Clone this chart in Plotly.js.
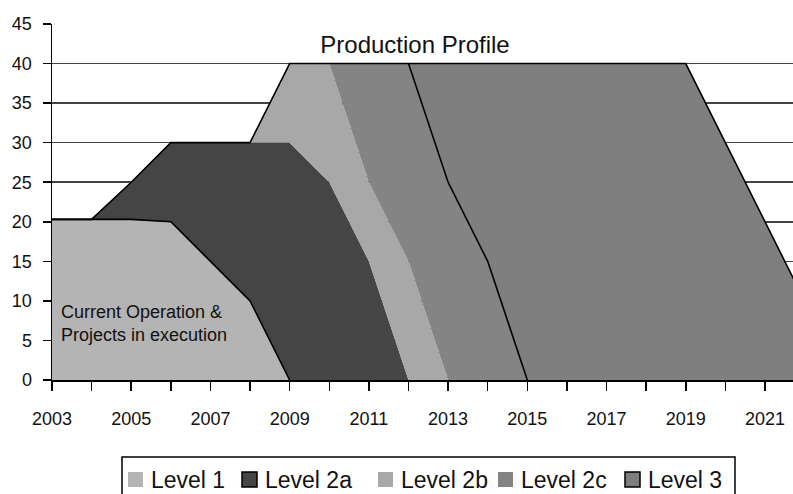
<!DOCTYPE html>
<html><head><meta charset="utf-8">
<script src="https://cdn.plot.ly/plotly-3.0.1.min.js"></script>
<style>html,body{margin:0;padding:0;background:#fff}#chart{width:793px;height:494px}</style>
</head><body><div id="chart"></div>
<script>
// ---- data ----
const years    = [2003,2004,2005,2006,2007,2008,2009,2010,2011,2012,2013,2014,2015,2016,2017,2018,2019,2020,2021,2022];
const level1   = [20.3,20.3,20.3,20, 15, 10, 0,  0,  0,  0,  0,  0,  0,  0,  0,  0,  0,  0,  0,  0];
const level2a  = [0,   0,   4.7, 10, 15, 20, 30, 25, 15, 0,  0,  0,  0,  0,  0,  0,  0,  0,  0,  0];
const level2b  = [0,   0,   0,   0,  0,  0,  10, 15, 10, 15, 0,  0,  0,  0,  0,  0,  0,  0,  0,  0];
const level2c  = [0,   0,   0,   0,  0,  0,  0,  0,  15, 25, 25, 15, 0,  0,  0,  0,  0,  0,  0,  0];
const level3   = [0,   0,   0,   0,  0,  0,  0,  0,  0,  0,  15, 25, 40, 40, 40, 40, 40, 30, 20, 10];
const seriesNames = ['Level 1','Level 2a','Level 2b','Level 2c','Level 3'];
const xTickYears  = [2003,2004,2005,2006,2007,2008,2009,2010,2011,2012,2013,2014,2015,2016,2017,2018,2019,2020,2021];
const xTickLabels = ['2003','','2005','','2007','','2009','','2011','','2013','','2015','','2017','','2019','','2021'];
const yTickVals   = [0,5,10,15,20,25,30,35,40,45];
const chartTitle  = 'Production Profile';
const noteText    = 'Current Operation &<br>Projects in execution';

// ---- styles ----
const colors   = ['#b4b4b4','#454545','#a8a8a8','#848484','#7f7f7f'];
const outlined = [false,true,false,false,true];
const FONT = 'Liberation Sans, Arial, sans-serif';
const W = 793, H = 494, M = {l:52, r:0, t:24, b:114};

const series = [level1, level2a, level2b, level2c, level3];
const cum = [];
series.forEach((s,i)=>{ cum.push(s.map((v,j)=> v + (i ? cum[i-1][j] : 0))); });

const traces = series.map((s,i)=>({
  type:'scatter', x: years, y: s, name: seriesNames[i], stackgroup:'one',
  mode:'lines', line:{width:0, color: colors[i]}, fillcolor: colors[i],
  showlegend:false, hoverinfo:'skip'
}));

const blk = {color:'#000', width:1.6};
const idx = (y)=>years.indexOf(y);
// overall envelope
traces.push({type:'scatter', mode:'lines', x: years, y: cum[4], line: blk, showlegend:false, hoverinfo:'skip'});
// Level 1 top edge
traces.push({type:'scatter', mode:'lines', x: years.slice(0, idx(2009)+1), y: cum[0].slice(0, idx(2009)+1), line: blk, showlegend:false, hoverinfo:'skip'});
// Level 3 left edge
traces.push({type:'scatter', mode:'lines', x: years.slice(idx(2012), idx(2015)+1), y: cum[3].slice(idx(2012), idx(2015)+1), line: blk, showlegend:false, hoverinfo:'skip'});

// pixel -> paper helpers
const pw = W - M.l - M.r, ph = H - M.t - M.b;
const px = (x)=> (x - M.l)/pw;
const py = (y)=> (H - M.b - y)/ph;

// custom legend
const swX = [128, 242, 378, 498, 625];
const swTop = 472, swSize = 15;
const shapes = [{type:'rect', xref:'paper', yref:'paper', x0:px(122), x1:px(735), y0:py(457), y1:py(510),
  line:{color:'#000', width:1.5}, fillcolor:'rgba(0,0,0,0)'}];
const annotations = [{xref:'x', yref:'y', x:2003.18, y:7.2, xanchor:'left', yanchor:'middle', align:'left',
  text: noteText, showarrow:false, font:{family:FONT, size:18, color:'#111'}}];
seriesNames.forEach((n,i)=>{
  shapes.push({type:'rect', xref:'paper', yref:'paper', x0:px(swX[i]), x1:px(swX[i]+swSize), y0:py(swTop+swSize), y1:py(swTop),
    fillcolor: colors[i], line:{color:'#000', width: outlined[i] ? 1.5 : 0}});
  annotations.push({xref:'paper', yref:'paper', x:px(swX[i]+swSize+6), y:py(swTop+8), xanchor:'left', yanchor:'middle',
    text:n, showarrow:false, font:{family:FONT, size:23, color:'#111'}});
});

const layout = {
  width:W, height:H, margin:M, paper_bgcolor:'#fff', plot_bgcolor:'#fff', showlegend:false,
  font:{family:FONT, color:'#111'},
  title:{text: chartTitle, font:{family:FONT, size:24, color:'#111'}, x:415/W, xanchor:'center', y:1-45/H, yanchor:'middle', xref:'container', yref:'container'},
  xaxis:{range:[2003, 2003 + pw/39.61], tickvals: xTickYears, ticktext: xTickLabels, ticks:'outside', ticklen:9, tickwidth:1.5, tickcolor:'#000',
    showline:true, linecolor:'#000', linewidth:1.5, showgrid:false, zeroline:false, tickfont:{family:FONT, size:18, color:'#111'}, ticklabelstandoff:13, fixedrange:true},
  yaxis:{range:[0,45], tickvals: yTickVals, ticks:'outside', ticklen:8, tickwidth:1.5, tickcolor:'#000',
    showline:true, linecolor:'#000', linewidth:1.5, showgrid:true, gridcolor:'#444', gridwidth:1.5, zeroline:false,
    tickfont:{family:FONT, size:18, color:'#111'}, ticklabelstandoff:7, fixedrange:true},
  shapes, annotations
};
Plotly.newPlot('chart', traces, layout, {displayModeBar:false, staticPlot:true});
</script></body></html>
